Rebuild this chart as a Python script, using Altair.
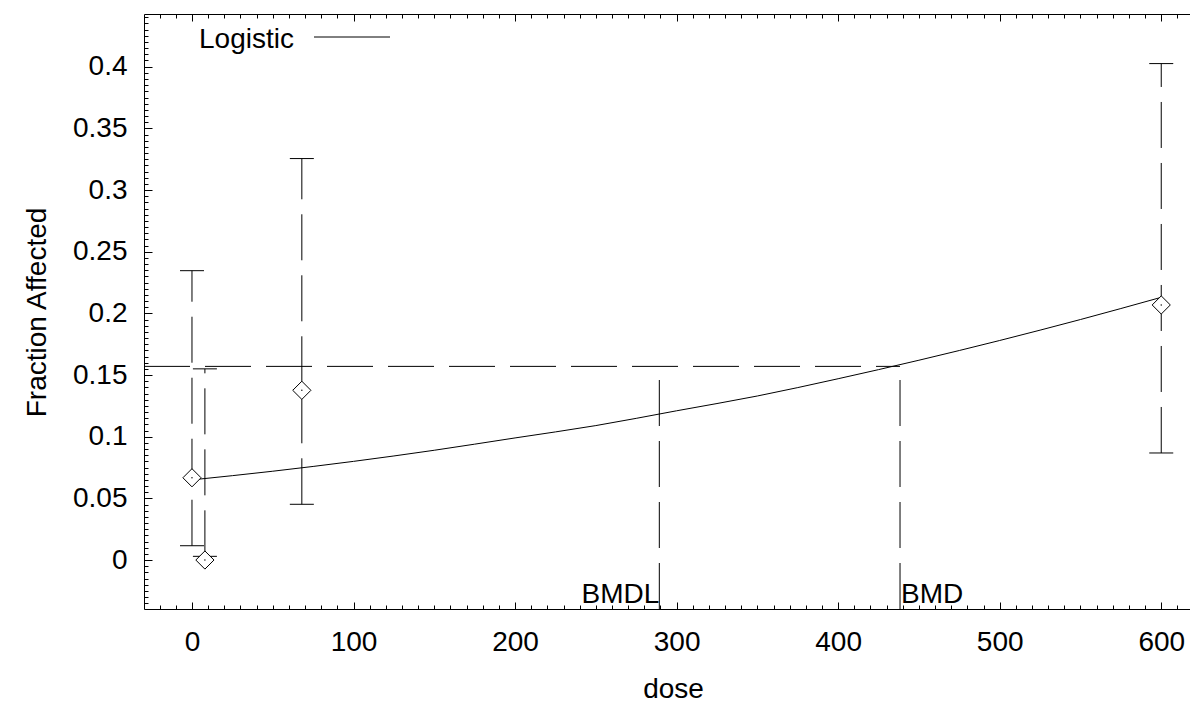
import altair as alt
import pandas as pd

# ---- data ----
dose = [0, 8, 68, 600]
frac = [0.0667, 0.0, 0.1376, 0.2068]
lower = [0.0116, 0.003, 0.0452, 0.0868]
upper = [0.2346, 0.155, 0.3255, 0.4025]

curve_dose = [0, 50, 100, 150, 200, 250, 300, 350, 400, 450, 500, 550, 600]
curve_frac = [0.065, 0.072, 0.080, 0.089, 0.099, 0.109, 0.121, 0.133,
              0.147, 0.162, 0.178, 0.195, 0.213]

bmdl = 289.3
bmd = 438.3
bmr_level = 0.157
bmdl_top = 0.146

x_major = [0, 100, 200, 300, 400, 500, 600]
x_minor = list(range(-20, 611, 10))
y_major = [0, 0.05, 0.1, 0.15, 0.2, 0.25, 0.3, 0.35, 0.4]
y_minor = [round(-0.035 + 0.005 * i, 3) for i in range(96)]

X_DOMAIN = [-29.7, 617.8]
Y_DOMAIN = [-0.0397, 0.4427]
W, H = 1046, 595
FONT = "Liberation Sans"
FS = 28

xs = alt.Scale(domain=X_DOMAIN, nice=False, zero=False)
ys = alt.Scale(domain=Y_DOMAIN, nice=False, zero=False)

pts = pd.DataFrame({"dose": dose, "frac": frac, "lower": lower, "upper": upper})
caps = pd.DataFrame({"dose": dose + dose, "v": lower + upper})
curve = pd.DataFrame({"dose": curve_dose, "frac": curve_frac})
bmd_lines = pd.DataFrame({
    "x": [X_DOMAIN[0], bmdl, bmd],
    "x2": [bmd, bmdl, bmd],
    "y": [bmr_level, Y_DOMAIN[0], Y_DOMAIN[0]],
    "y2": [bmr_level, bmdl_top, bmr_level],
})


def tick_axis(orient, offset, values, size):
    return alt.Axis(orient=orient, offset=offset, values=values, labels=False,
                    domain=False, ticks=True, tickSize=size, tickColor="black",
                    tickWidth=1, grid=False, title="")


ax_bottom = alt.Axis(orient="bottom", values=x_major, format="d", ticks=False,
                     tickSize=0, labelPadding=41, labelBaseline="alphabetic",
                     labelFontSize=FS, domain=True, domainColor="black",
                     domainWidth=1, grid=False, title="dose", titleFontSize=FS,
                     titleX=529, titleY=88, titleBaseline="alphabetic")
ax_left = alt.Axis(orient="left", values=y_major, format="~g", ticks=False,
                   tickSize=0, labelPadding=17, labelFontSize=FS, domain=True,
                   domainColor="black", domainWidth=1, grid=False,
                   title="Fraction Affected", titleFontSize=FS, titleX=-99,
                   titleY=298, titleBaseline="alphabetic", titleAngle=270)

errbars = alt.Chart(pts).mark_rule(color="black", strokeWidth=1,
                                   strokeDash=[46, 15]).encode(
    x=alt.X("dose:Q", scale=xs, axis=ax_bottom),
    y=alt.Y("lower:Q", scale=ys, axis=ax_left),
    y2="upper:Q",
)

cap_layer = alt.Chart(caps).mark_tick(orient="horizontal", size=24, thickness=1,
                                      color="black", opacity=1).encode(
    x=alt.X("dose:Q", scale=xs, axis=tick_axis("top", -H, x_major, 7)),
    y=alt.Y("v:Q", scale=ys, axis=tick_axis("right", -W, y_major, 8)),
)

curve_layer = alt.Chart(curve).mark_line(color="black", strokeWidth=1,
                                         interpolate="monotone").encode(
    x=alt.X("dose:Q", scale=xs, axis=tick_axis("top", -H, x_minor, 4)),
    y=alt.Y("frac:Q", scale=ys, axis=tick_axis("right", -W, y_minor, 4)),
)

bmd_layer = alt.Chart(bmd_lines).mark_rule(color="black", strokeWidth=1,
                                           strokeDash=[46, 15]).encode(
    x=alt.X("x:Q", scale=xs, axis=alt.Axis(orient="bottom", offset=-H, values=x_major,
                                            labels=False, domain=True, domainColor="black",
                                            domainWidth=1, ticks=True, tickSize=7,
                                            tickColor="black", grid=False, title="")),
    x2="x2:Q",
    y=alt.Y("y:Q", scale=ys, axis=None),
    y2="y2:Q",
)

diamonds = alt.Chart(pts).mark_point(shape="diamond", size=330, filled=True,
                                     fill="white", stroke="black", strokeWidth=1,
                                     opacity=1).encode(
    x=alt.X("dose:Q", scale=xs, axis=tick_axis("bottom", -H, x_minor, 4)),
    y=alt.Y("frac:Q", scale=ys, axis=None),
)

dots = alt.Chart(pts).mark_circle(size=2, color="black", opacity=1).encode(
    x=alt.X("dose:Q", scale=xs, axis=None),
    y=alt.Y("frac:Q", scale=ys, axis=None),
)

bmd_text = pd.DataFrame({"x": [bmdl], "label": ["BMDL"]})
bmdl_label = alt.Chart(bmd_text).mark_text(align="right", baseline="alphabetic",
                                           font=FONT, fontSize=FS, color="black").encode(
    x=alt.X("x:Q", scale=xs, axis=None),
    y=alt.value(H - 6),
    text="label:N",
)
bmd_text2 = pd.DataFrame({"x": [bmd], "label": ["BMD"]})
bmd_label = alt.Chart(bmd_text2).mark_text(align="left", baseline="alphabetic", dx=1,
                                           font=FONT, fontSize=FS, color="black").encode(
    x=alt.X("x:Q", scale=xs, axis=None),
    y=alt.value(H - 6),
    text="label:N",
)

legend_df = pd.DataFrame({"label": ["Logistic"]})
legend_text = alt.Chart(legend_df).mark_text(align="left", baseline="alphabetic",
                                             font=FONT, fontSize=FS, color="black").encode(
    x=alt.value(55), y=alt.value(34), text="label:N")
legend_line = alt.Chart(legend_df).mark_rule(color="black", strokeWidth=1).encode(
    x=alt.value(170), x2=alt.value(246), y=alt.value(23))

chart = alt.layer(
    errbars, cap_layer, curve_layer, bmd_layer, diamonds, dots,
    bmdl_label, bmd_label, legend_text, legend_line,
).resolve_axis(x="independent", y="independent").properties(
    width=W, height=H,
    autosize=alt.AutoSizeParams(type="none"),
    padding={"left": 136, "top": 6, "right": 0, "bottom": 95},
).configure_axis(
    labelFont=FONT, titleFont=FONT, labelColor="black", titleColor="black",
    titleFontWeight="normal",
).configure_view(stroke="transparent")

chart.save("out.html", embed_options={"renderer": "svg", "actions": False})
